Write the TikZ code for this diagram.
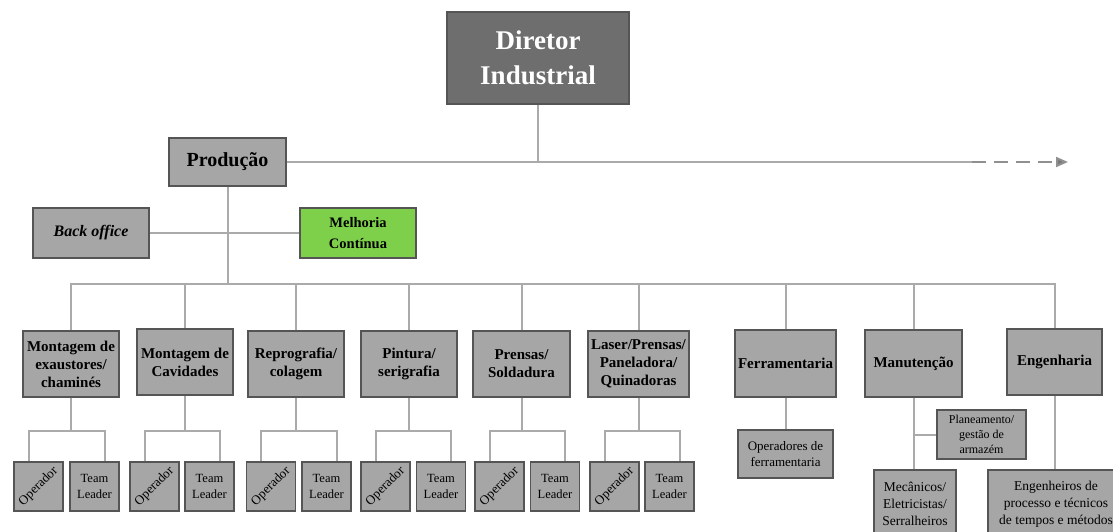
\documentclass[tikz,border=0pt]{standalone}
\usepackage{fontspec}
\setmainfont{Liberation Serif}
\usetikzlibrary{arrows.meta}
\definecolor{boxc}{RGB}{166,166,166}
\definecolor{bordc}{RGB}{85,85,85}
\definecolor{dirc}{RGB}{110,110,110}
\definecolor{greenc}{RGB}{126,208,75}
\definecolor{linec}{RGB}{170,170,170}
\begin{document}
\begin{tikzpicture}[x=1pt,y=-1pt,
  box/.style={draw=bordc, fill=boxc, line width=1.3pt, align=center, inner sep=1pt,
     font=\bfseries\fontsize{15}{18}\selectfont},
  lvl/.style={box, minimum width=96pt, minimum height=66pt},
  leaf/.style={draw=bordc, fill=boxc, line width=1.3pt, align=center, inner sep=0pt,
     minimum width=49pt, minimum height=49pt, font=\fontsize{12.5}{16}\selectfont},
  small/.style={draw=bordc, fill=boxc, line width=1.3pt, align=center, inner sep=1pt,
     font=\fontsize{13.5}{17}\selectfont},
  conn/.style={draw=linec, line width=2pt}]
\useasboundingbox (0,0) rectangle (1113,532);
\clip (0,0) rectangle (1113,532);

% top
\node[box, fill=dirc, text=white, minimum width=182pt, minimum height=92pt,
      font=\bfseries\fontsize{27}{35}\selectfont] (dir) at (538,58) {Diretor\\Industrial};
\node[box, minimum width=117pt, minimum height=48pt, font=\bfseries\fontsize{20}{24}\selectfont]
      (prod) at (227.5,162) {Produção};
\node[box, minimum width=116pt, minimum height=50pt, font=\bfseries\itshape\fontsize{16}{19}\selectfont]
      (bo) at (91,233) {Back office};
\node[box, fill=greenc, minimum width=116pt, minimum height=50pt, font=\bfseries\fontsize{14.5}{21}\selectfont]
      (mc) at (358,233) {Melhoria\\Contínua};

\coordinate (dashstart) at (972,162);
\coordinate (tip) at (1068,162);
\coordinate (bar) at (0,284);

\draw[conn] (dir.south) -- (dir.south |- prod.east);
\draw[conn] (prod.east) -- (dashstart);
\draw[conn, draw=linec!85!black, dash pattern=on 14pt off 8pt,
      -{Triangle[length=12pt,width=10pt,fill=linec!70!black]}] (dashstart) -- (tip);
\draw[conn] (bo.east) -- (mc.west);

% level 2
\node[lvl] (m1) at (71,364) {Montagem de\\exaustores/\\chaminés};
\node[lvl] (m2) at (185,362) {Montagem de\\Cavidades};
\node[lvl] (m3) at (296,364) {Reprografia/\\colagem};
\node[lvl] (m4) at (409,364) {Pintura/\\serigrafia};
\node[lvl, minimum width=97pt] (m5) at (521.5,364) {Prensas/\\Soldadura};
\node[lvl, minimum width=101pt] (m6) at (638.5,364) {Laser/Prensas/\\Paneladora/\\Quinadoras};
\node[lvl, minimum width=101pt, minimum height=67pt] (fe) at (785.5,363.5) {Ferramentaria};
\node[lvl, minimum width=97pt, minimum height=67pt] (ma) at (913.5,363.5) {Manutenção};
\node[lvl, minimum width=95pt] (en) at (1054.5,362) {Engenharia};

\draw[conn] (prod.south) -- (prod.south |- bar);
\draw[conn] (m1.north) -- (m1.north |- bar) -- (en.north |- bar) -- (en.north);
\foreach \n in {m2,m3,m4,m5,m6,fe,ma}
  \draw[conn] (\n.north) -- (\n.north |- bar);

% leaves under production sections
\foreach \i/\ox/\tx in {1/38.5/94.5, 2/154.5/209.5, 3/271/326.5, 4/385.5/441, 5/499.5/555, 6/614.5/669.5}{
  \node[leaf] (o\i) at (\ox,486.5) {\rotatebox{45}{\fontsize{13}{15}\selectfont Operador}};
  \node[leaf] (t\i) at (\tx,486.5) {Team\\Leader};
  \coordinate (j\i) at (m\i.south |- 0,431);
  \draw[conn] (m\i.south) -- (j\i);
  \draw[conn] ([xshift=-10pt]o\i.north) |- (j\i) -| ([xshift=10pt]t\i.north);
}

% other children
\node[small, minimum width=95pt, minimum height=48pt, font=\fontsize{13}{16}\selectfont]
     (fo) at (785.5,454) {Operadores de\\ferramentaria};
\node[small, minimum width=89pt, minimum height=49pt, font=\fontsize{12}{15}\selectfont]
     (pl) at (981.5,434.5) {Planeamento/\\gestão de\\armazém};
\node[small, minimum width=82pt, minimum height=68pt] (me) at (915,504) {Mecânicos/\\Eletricistas/\\Serralheiros};
\node[small, minimum width=136pt, minimum height=68pt] (eg) at (1056,504) {Engenheiros de\\processo e técnicos\\de tempos e métodos};

\draw[conn] (fe.south) -- (fo.north);
\draw[conn] (ma.south) -- (ma.south |- me.north);
\draw[conn] (pl.west) -- (pl.west -| ma.south);
\draw[conn] (en.south) -- (en.south |- eg.north);
\end{tikzpicture}
\end{document}
